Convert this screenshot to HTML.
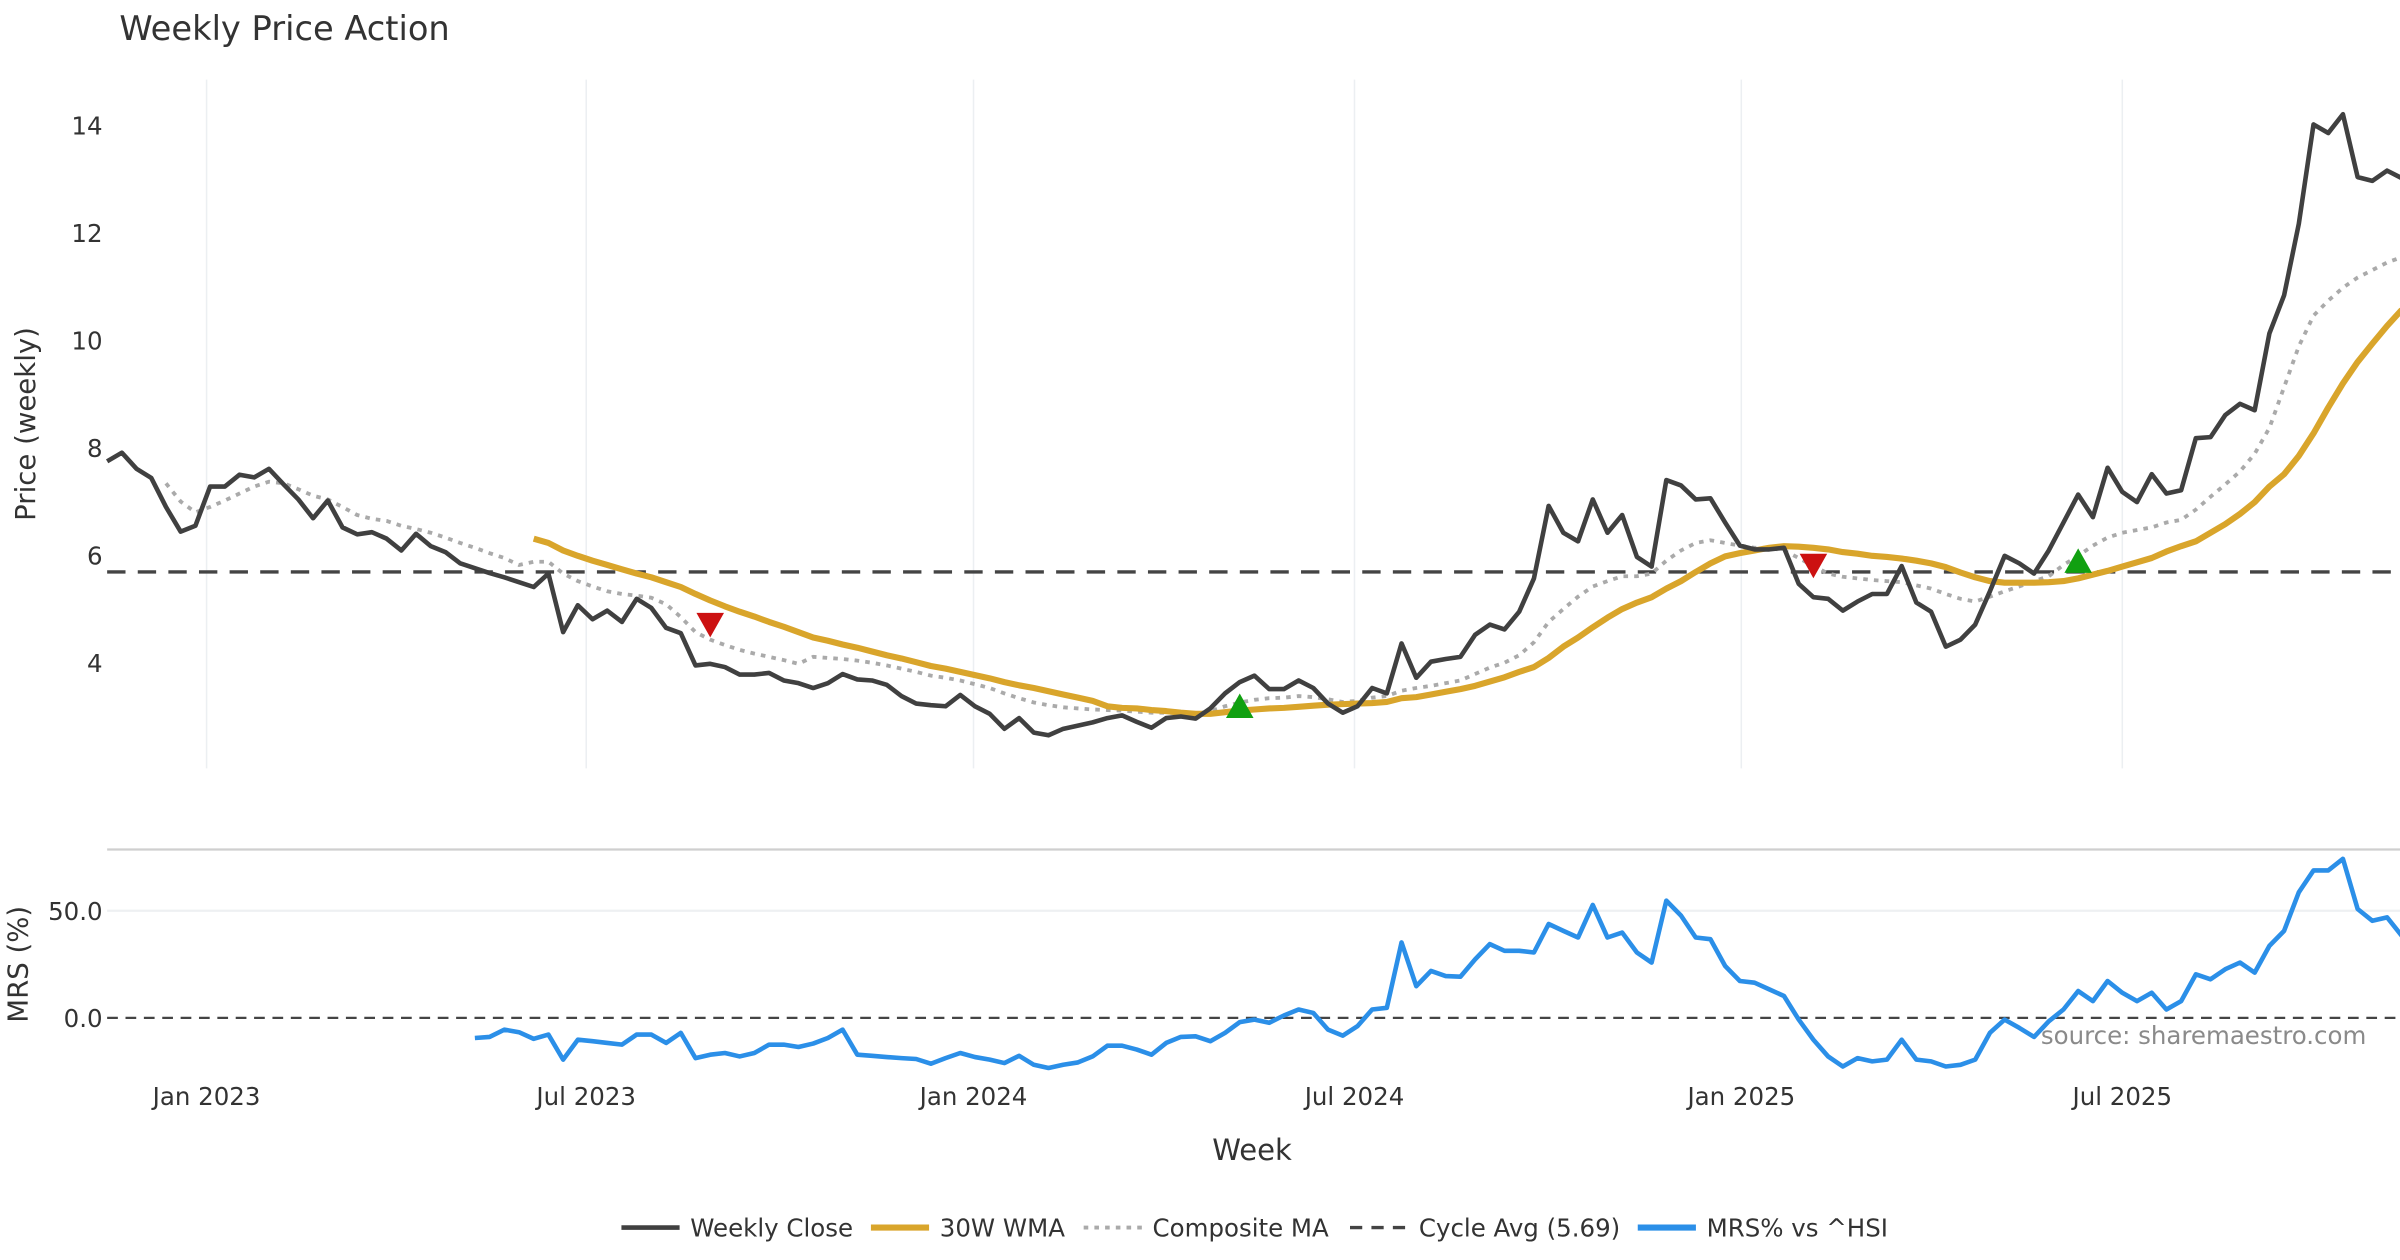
<!DOCTYPE html>
<html><head><meta charset="utf-8"><style>
html,body{margin:0;padding:0;background:#fff;}
svg{display:block;font-family:"DejaVu Sans","Liberation Sans",sans-serif;}
</style></head><body>
<svg id="chart" width="2400" height="1260" viewBox="0 0 1568 823.2" xmlns="http://www.w3.org/2000/svg">
<rect x="0" y="0" width="1568" height="823.2" fill="#fff"/>
<text x="78" y="26" font-size="22" fill="#333">Weekly Price Action</text>
<g id="grid"></g>
<g id="axes"></g>
<g id="series"></g>
<text transform="translate(23,277) rotate(-90)" text-anchor="middle" font-size="18" fill="#333">Price (weekly)</text>
<text transform="translate(18,630) rotate(-90)" text-anchor="middle" font-size="18" fill="#333">MRS (%)</text>
<text x="818" y="758" text-anchor="middle" font-size="19" fill="#333">Week</text>
<text x="1546" y="682" text-anchor="end" font-size="16" fill="#8a8a8a">source: sharemaestro.com</text>
<g id="legend"></g>
</svg>
<script>
const closeVals=[7.75,7.91,7.61,7.44,6.9,6.44,6.55,7.28,7.28,7.5,7.45,7.61,7.32,7.04,6.69,7.02,6.52,6.39,6.43,6.31,6.09,6.40,6.17,6.06,5.85,5.76,5.67,5.59,5.5,5.41,5.66,4.57,5.07,4.81,4.97,4.76,5.19,5.02,4.65,4.55,3.95,3.98,3.92,3.78,3.78,3.81,3.67,3.62,3.53,3.62,3.79,3.69,3.67,3.59,3.38,3.24,3.21,3.19,3.40,3.19,3.05,2.77,2.97,2.70,2.65,2.77,2.83,2.89,2.97,3.02,2.9,2.79,2.97,3.0,2.96,3.15,3.43,3.64,3.76,3.51,3.51,3.67,3.53,3.24,3.07,3.19,3.53,3.43,4.36,3.72,4.02,4.07,4.11,4.52,4.71,4.62,4.95,5.57,6.92,6.42,6.26,7.04,6.42,6.75,5.97,5.79,7.40,7.30,7.04,7.06,6.61,6.18,6.11,6.11,6.14,5.47,5.22,5.19,4.97,5.14,5.28,5.28,5.80,5.12,4.95,4.30,4.43,4.71,5.33,5.99,5.85,5.66,6.09,6.61,7.13,6.71,7.63,7.18,6.99,7.51,7.15,7.21,8.18,8.20,8.61,8.82,8.70,10.13,10.84,12.17,14.02,13.86,14.21,13.04,12.97,13.16,13.02];
const wmaStart=29;
const wmaVals=[6.31,6.23,6.09,5.99,5.90,5.82,5.74,5.66,5.59,5.50,5.41,5.28,5.16,5.05,4.95,4.86,4.76,4.67,4.57,4.47,4.41,4.34,4.28,4.21,4.14,4.08,4.01,3.94,3.89,3.83,3.77,3.71,3.64,3.58,3.53,3.47,3.41,3.35,3.29,3.19,3.16,3.15,3.12,3.10,3.07,3.05,3.05,3.08,3.11,3.13,3.15,3.16,3.18,3.20,3.22,3.23,3.24,3.25,3.27,3.34,3.36,3.41,3.46,3.51,3.57,3.65,3.73,3.83,3.92,4.09,4.30,4.47,4.66,4.84,5.00,5.12,5.22,5.38,5.52,5.69,5.85,5.98,6.04,6.09,6.14,6.17,6.16,6.14,6.11,6.06,6.03,5.99,5.97,5.94,5.90,5.85,5.78,5.68,5.59,5.52,5.49,5.49,5.49,5.50,5.52,5.57,5.64,5.71,5.79,5.87,5.95,6.07,6.17,6.26,6.42,6.58,6.77,6.99,7.28,7.51,7.85,8.27,8.75,9.20,9.60,9.94,10.27,10.57];
const compStart=4;
const compVals=[7.34,7.0,6.8,6.9,7.02,7.15,7.28,7.37,7.34,7.23,7.11,7.04,6.9,6.75,6.68,6.64,6.55,6.49,6.42,6.33,6.23,6.14,6.04,5.95,5.82,5.88,5.88,5.66,5.52,5.42,5.33,5.28,5.25,5.21,5.09,4.85,4.57,4.43,4.33,4.24,4.17,4.11,4.05,3.98,4.11,4.09,4.07,4.04,4.0,3.95,3.89,3.83,3.76,3.72,3.67,3.60,3.53,3.43,3.34,3.26,3.21,3.17,3.15,3.13,3.12,3.11,3.09,3.07,3.07,3.06,3.05,3.10,3.19,3.26,3.31,3.34,3.35,3.38,3.36,3.32,3.27,3.29,3.35,3.38,3.48,3.53,3.57,3.62,3.67,3.79,3.91,4.0,4.14,4.38,4.76,5.0,5.23,5.42,5.52,5.61,5.61,5.66,5.90,6.09,6.23,6.28,6.23,6.18,6.14,6.14,6.09,5.95,5.80,5.66,5.60,5.57,5.54,5.52,5.50,5.44,5.38,5.28,5.19,5.14,5.23,5.33,5.42,5.52,5.61,5.82,5.99,6.18,6.33,6.42,6.47,6.52,6.61,6.66,6.85,7.09,7.32,7.56,7.89,8.37,9.13,9.89,10.46,10.74,10.98,11.17,11.31,11.45,11.55];
const mrsStart=25;
const mrsVals=[-9.4,-8.9,-5.5,-6.7,-9.8,-7.8,-19.5,-10.2,-10.9,-11.7,-12.5,-7.8,-7.8,-11.7,-7.0,-18.8,-17.2,-16.4,-18.0,-16.4,-12.5,-12.5,-13.6,-12.0,-9.4,-5.5,-17.2,-17.7,-18.3,-18.8,-19.2,-21.4,-18.8,-16.4,-18.3,-19.5,-21.1,-17.7,-21.9,-23.4,-21.9,-20.8,-18.0,-13.0,-13.0,-14.8,-17.2,-11.7,-8.9,-8.6,-10.9,-7.0,-2.0,-0.8,-2.3,1.1,3.9,2.3,-5.5,-8.3,-3.9,3.9,4.7,35.2,14.8,21.9,19.5,19.2,27.3,34.4,31.3,31.3,30.5,43.8,40.6,37.5,52.7,37.5,39.8,30.5,25.8,54.7,47.7,37.5,36.7,24.2,17.2,16.4,13.3,10.2,-0.8,-10.2,-18.0,-22.7,-18.8,-20.3,-19.5,-10.2,-19.5,-20.3,-22.7,-21.9,-19.5,-7.0,-0.8,-4.7,-8.9,-1.6,3.9,12.5,7.8,17.2,11.7,7.8,11.7,3.9,7.8,20.3,18.0,22.7,25.8,21.1,33.6,40.6,58.6,68.8,68.8,74.2,50.8,45.3,46.9,38.3];
const cycleAvg=5.69;
const sellIdx=[41,116];
const sellVal=[4.7,5.8];
const buyIdx=[77,134];
const buyVal=[3.2,5.9];
const xTickLabels=["Jan 2023","Jul 2023","Jan 2024","Jul 2024","Jan 2025","Jul 2025"];
const xTickWeeks=[6.76,32.57,58.9,84.8,111.1,137.0];
const yTicks=[4,6,8,10,12,14];
const mrsTicks=[0,50];

const NS="http://www.w3.org/2000/svg";
const X0=70,DX=9.61;
const x=i=>X0+DX*i;
const yP=v=>433-(v-4)*35.1;
const yM=v=>665-v*1.4;
function el(tag,attrs,parent){const e=document.createElementNS(NS,tag);for(const k in attrs)e.setAttribute(k,attrs[k]);parent.appendChild(e);return e;}
const grid=document.getElementById('grid'),axes=document.getElementById('axes'),series=document.getElementById('series'),legend=document.getElementById('legend');

xTickWeeks.forEach((w,k)=>{
  const g=el('line',{x1:x(w),x2:x(w),y1:52,y2:502,stroke:'#eceff2','stroke-width':1},grid);
  
  
  const t=el('text',{x:x(w),y:722,'text-anchor':'middle','font-size':16,fill:'#333'},axes);
  t.textContent=xTickLabels[k];
  
  
});
yTicks.forEach(v=>{
  const t=el('text',{x:67,y:yP(v)+6,'text-anchor':'end','font-size':16,fill:'#333'},axes);
  t.textContent=v;
  
  
});
mrsTicks.forEach(v=>{
  const t=el('text',{x:67,y:yM(v)+6,'text-anchor':'end','font-size':16,fill:'#333'},axes);
  t.textContent=v.toFixed(1);
  
  
});
const g50=el('line',{x1:70,x2:1568,y1:yM(50),y2:yM(50),stroke:'#eef0f2','stroke-width':1.5},grid);


const sep=el('line',{x1:70,x2:1568,y1:555,y2:555,stroke:'#cfcfcf','stroke-width':1.5},grid);


const z=el('line',{x1:70,x2:1568,y1:yM(0),y2:yM(0),stroke:'#444','stroke-width':1.5,'stroke-dasharray':'7,5'},grid);



function path(vals,start,yf){return vals.map((v,k)=>(k?'L':'M')+x(start+k).toFixed(2)+','+yf(v).toFixed(2)).join('');}

const ca=el('line',{x1:70,x2:1568,y1:yP(cycleAvg),y2:yP(cycleAvg),stroke:'#444','stroke-width':2.2,'stroke-dasharray':'12,8'},series);


const cp=el('path',{d:path(compVals,compStart,yP),fill:'none',stroke:'#aaaaaa','stroke-width':2.5,'stroke-dasharray':'3,4'},series);


const wp=el('path',{d:path(wmaVals,wmaStart,yP),fill:'none',stroke:'#d9a52b','stroke-width':4,'stroke-linejoin':'round'},series);


const cl=el('path',{d:path(closeVals,0,yP),fill:'none',stroke:'#404040','stroke-width':3,'stroke-linejoin':'round'},series);


const mp=el('path',{d:path(mrsVals,mrsStart,yM),fill:'none',stroke:'#2b8fe8','stroke-width':3,'stroke-linejoin':'round'},series);



sellIdx.forEach((i,k)=>{const cx=x(i),cy=yP(sellVal[k]);
  const t=el('polygon',{points:`${cx-9},${cy-8} ${cx+9},${cy-8} ${cx},${cy+8}`,fill:'#cc1111'},series);
  
  });
buyIdx.forEach((i,k)=>{const cx=x(i),cy=yP(buyVal[k]);
  const t=el('polygon',{points:`${cx-9},${cy+8} ${cx+9},${cy+8} ${cx},${cy-8}`,fill:'#11a011'},series);
  
  });

const legItems=[["Weekly Close","#404040",3,null,406],["30W WMA","#d9a52b",4,null,569],["Composite MA","#aaaaaa",2.5,"3,4",708],["Cycle Avg (5.69)","#444",2.2,"8,6",882],["MRS% vs ^HSI","#2b8fe8",4,null,1070]];
legItems.forEach(it=>{
  const l=el('line',{x1:it[4],x2:it[4]+38,y1:802,y2:802,stroke:it[1],'stroke-width':it[2]},legend);
  if(it[3])l.setAttribute('stroke-dasharray',it[3]);
  
  
  const t=el('text',{x:it[4]+45,y:808,'font-size':16,fill:'#333'},legend);
  t.textContent=it[0];
  
  
});
</script>
</body></html>
